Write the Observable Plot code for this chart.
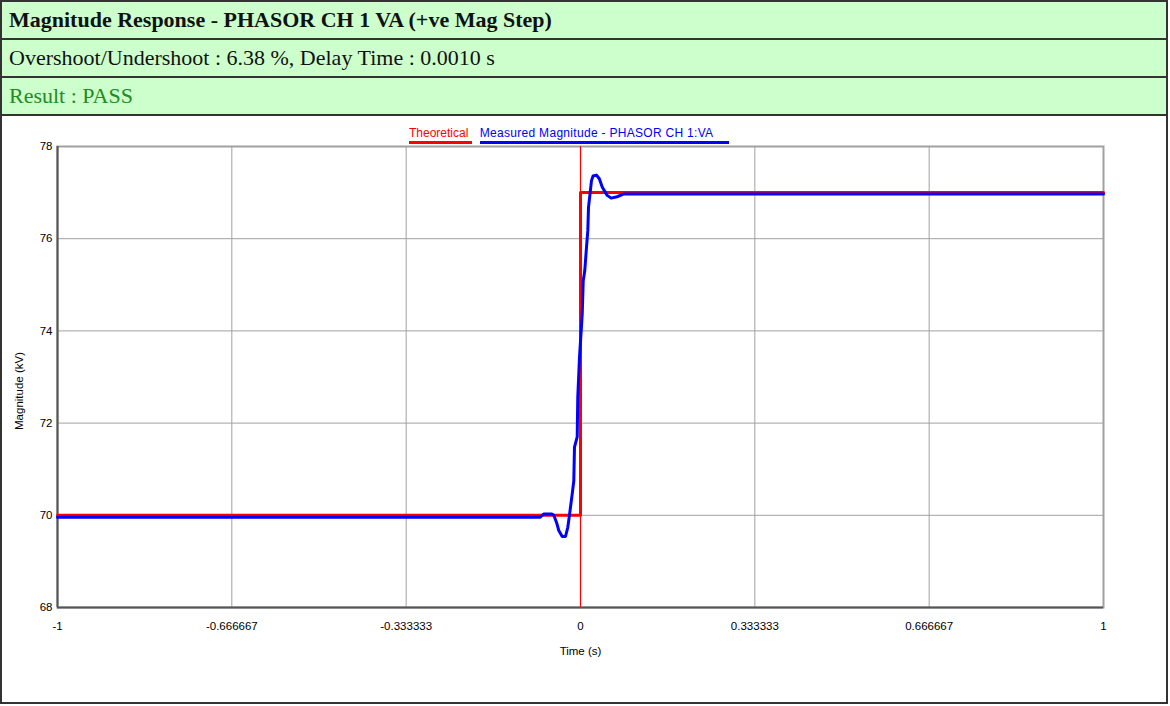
<!DOCTYPE html>
<html>
<head>
<meta charset="utf-8">
<script src="https://cdn.jsdelivr.net/npm/d3@7"></script>
<script src="https://cdn.jsdelivr.net/npm/@observablehq/plot@0.6"></script>
<style>
  html, body { margin: 0; padding: 0; background: white; }
  #outer { position: absolute; left: 0; top: 0; width: 1164px; height: 700px; border: 2px solid #333; background: white; }
  .row { height: 36px; line-height: 36px; border-bottom: 2px solid #333; background: #ccffcc; padding-left: 7px;
         font-family: "Liberation Serif", "Times New Roman", serif; font-size: 22px; color: #111; white-space: nowrap; }
  .row.title { font-weight: bold; }
  .row.result { color: #228b22; }
  #legend { position: absolute; left: 407px; top: 124px; font-family: "Liberation Sans", Arial, sans-serif; font-size: 12px; white-space: nowrap; }
  #legend span { display: inline-block; padding-right: 4px; line-height: 15px; }
  #chart { position: absolute; left: 0; top: 112px; }
</style>
</head>
<body>
<div id="outer">
  <div class="row title">Magnitude Response - PHASOR CH 1 VA (+ve Mag Step)</div>
  <div class="row">Overshoot/Undershoot : 6.38 %, Delay Time : 0.0010 s</div>
  <div class="row result">Result : PASS</div>
  <div id="chart"></div>
  <div id="legend">
    <span style="color:red;border-bottom:3px solid red;">Theoretical</span>
    <span style="color:blue;border-bottom:3px solid blue;margin-left:4px;padding-right:16px;letter-spacing:0.3px;">Measured Magnitude - PHASOR CH 1:VA</span>
  </div>
</div>
<script>
// Tick values and labels
const xTickValues = [-1, -0.666667, -0.333333, 0, 0.333333, 0.666667, 1];
const xTickLabels = ["-1", "-0.666667", "-0.333333", "0", "0.333333", "0.666667", "1"];
const yTickValues = [68, 70, 72, 74, 76, 78];
const xLabel = "Time (s)";
const yLabel = "Magnitude (kV)";

// Theoretical step
const theoTime = [-1, 0, 0, 1];
const theoMag = [70, 70, 77, 77];

// Measured magnitude
const measTime = [-1, -0.077, -0.07, -0.055, -0.051, -0.046, -0.0415, -0.035, -0.0287, -0.0243, -0.0216,
  -0.0159, -0.0128, -0.0115, -0.0063, -0.0052, -0.0019, 0.0013, 0.0033, 0.0052, 0.0082, 0.0115, 0.014,
  0.0153, 0.021, 0.024, 0.0306, 0.036, 0.0415, 0.051, 0.0587, 0.07, 0.083, 1];
const measMag = [69.96, 69.96, 70.03, 70.03, 70.0, 69.85, 69.67, 69.54, 69.54, 69.74, 69.96,
  70.46, 70.75, 71.48, 71.7, 72.56, 73.43, 74.0, 74.37, 75.09, 75.31, 75.82, 76.18,
  76.68, 77.26, 77.36, 77.38, 77.3, 77.12, 76.94, 76.88, 76.91, 76.97, 76.97];

const theo = theoTime.map((t, i) => ({t, v: theoMag[i]}));
const meas = measTime.map((t, i) => ({t, v: measMag[i]}));

const chart = Plot.plot({
  width: 1164,
  height: 590,
  marginLeft: 55,
  marginRight: 63,
  marginTop: 32,
  marginBottom: 97,
  style: {fontFamily: "'Liberation Sans', Arial, sans-serif", fontSize: "11.5px", color: "black", background: "transparent", overflow: "visible"},
  x: {domain: [-1, 1], ticks: xTickValues, tickFormat: d => xTickLabels[xTickValues.indexOf(d)],
      tickSize: 0, tickPadding: 14, label: xLabel, labelAnchor: "center", labelArrow: "none", labelOffset: 47},
  y: {domain: [68, 78], ticks: yTickValues, tickSize: 0, tickPadding: 5, label: null},
  marks: [
    Plot.gridX(xTickValues.filter(d => d !== 0), {stroke: "#a0a0a0", strokeOpacity: 1}),
    Plot.gridY(yTickValues, {stroke: "#a0a0a0", strokeOpacity: 1}),
    Plot.frame({stroke: "#a0a0a0", strokeWidth: 2}),
    Plot.ruleX([-1], {stroke: "#555", strokeWidth: 2}),
    Plot.ruleY([68], {stroke: "#555", strokeWidth: 2}),
    Plot.ruleX([0], {stroke: "#ff0000", strokeWidth: 1.2}),
    Plot.line(theo, {x: "t", y: "v", stroke: "red", strokeWidth: 3}),
    Plot.line(meas, {x: "t", y: "v", stroke: "blue", strokeWidth: 3}),
    Plot.text([yLabel], {text: d => d, frameAnchor: "left", textAnchor: "middle", rotate: -90, dx: -38, dy: 14, fontSize: 11.5, fill: "black"})
  ]
});
document.getElementById("chart").appendChild(chart);
</script>
</body>
</html>
